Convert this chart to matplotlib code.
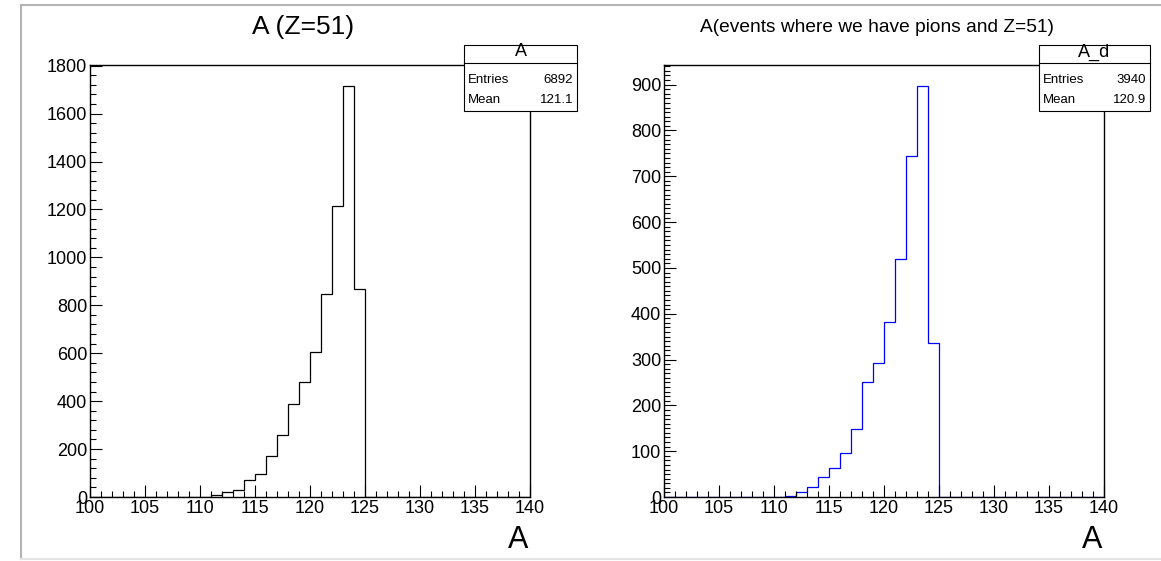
import numpy as np
import matplotlib
matplotlib.use("Agg")
import matplotlib.pyplot as plt
from matplotlib.patches import Rectangle
from matplotlib.lines import Line2D
from matplotlib.ticker import MultipleLocator

plt.rcParams['font.family'] = ['Liberation Sans', 'DejaVu Sans']

# bin edges: 40 bins of width 1 from 100 to 140
edges = np.arange(100, 141, 1)

# counts, bins 100-101 ... 139-140
counts_all = [0] * 11 + [7, 21, 29, 70, 97, 170, 260, 389, 481, 606, 848, 1213, 1717, 869] + [0] * 15
counts_pions = [0] * 9 + [1, 0, 2, 10, 21, 43, 63, 95, 148, 252, 293, 383, 519, 745, 898, 337] + [0] * 15

titles = ["A (Z=51)", "A(events where we have pions and Z=51)"]
title_sizes = [19, 13.8]
stat_names = ["A", "A_d"]
stat_entries = ["6892", "3940"]
stat_means = ["121.1", "120.9"]
colors = ["black", "#0000ff"]
y_major = [200, 100]
y_minor = [40, 10]

W, H = 1161, 561
fig = plt.figure(figsize=(W / 100, H / 100), dpi=100)


def fx(x):
    return x / W


def fy(y):
    return 1 - y / H


# canvas border (screenshot edges)
fig.add_artist(Line2D([fx(21), 1], [fy(4.5), fy(4.5)], color="#b4b4b4", lw=1.5))
fig.add_artist(Line2D([fx(21), fx(21)], [fy(4.5), fy(559)], color="#b4b4b4", lw=1.5))
fig.add_artist(Line2D([fx(21), 1], [fy(559), fy(559)], color="#e4e4e4", lw=1.5))

axes_left = [90, 664]
stat_left = [464, 1039]
stat_right = [577, 1150]

for i, counts in enumerate([counts_all, counts_pions]):
    x0 = axes_left[i]
    ax = fig.add_axes([fx(x0), fy(497), 440 / W, 432 / H])
    ax.stairs(counts, edges, color=colors[i], lw=0.9)
    ax.set_xlim(100, 140)
    ax.set_ylim(0, max(counts) * 1.05)
    ax.xaxis.set_major_locator(MultipleLocator(5))
    ax.xaxis.set_minor_locator(MultipleLocator(1))
    ax.yaxis.set_major_locator(MultipleLocator(y_major[i]))
    ax.yaxis.set_minor_locator(MultipleLocator(y_minor[i]))
    ax.tick_params(which="both", direction="in", top=False, right=False, labelsize=13, width=0.8)
    ax.tick_params(which="major", length=8.5)
    ax.tick_params(which="minor", length=4.3)
    ax.tick_params(axis="x", pad=2.5)
    ax.tick_params(axis="y", pad=2)
    for s in ax.spines.values():
        s.set_linewidth(1.0)
        s.set_zorder(3)

    # histogram title
    fig.text(fx(x0 + 213), fy(27), titles[i], ha="center", va="center", fontsize=title_sizes[i])
    # axis title
    fig.text(fx(x0 + 438), fy(540), "A", ha="right", va="center", fontsize=22)

    # stats box
    l, r = stat_left[i], stat_right[i]
    fig.add_artist(Rectangle((fx(l), fy(111)), (r - l) / W, 66 / H, transform=fig.transFigure,
                             facecolor="white", edgecolor="black", lw=0.8, zorder=5))
    fig.add_artist(Line2D([fx(l), fx(r)], [fy(63), fy(63)], color="black", lw=0.8, zorder=6))
    fig.text(fx((l + r) / 2), fy(52), stat_names[i], ha="center", va="center", fontsize=13, zorder=7)
    fig.text(fx(l + 4), fy(80), "Entries", ha="left", va="center", fontsize=9.5, zorder=7)
    fig.text(fx(r - 4), fy(80), stat_entries[i], ha="right", va="center", fontsize=9.5, zorder=7)
    fig.text(fx(l + 4), fy(100), "Mean", ha="left", va="center", fontsize=9.5, zorder=7)
    fig.text(fx(r - 4), fy(100), stat_means[i], ha="right", va="center", fontsize=9.5, zorder=7)

fig.savefig("out.png", dpi=100)
